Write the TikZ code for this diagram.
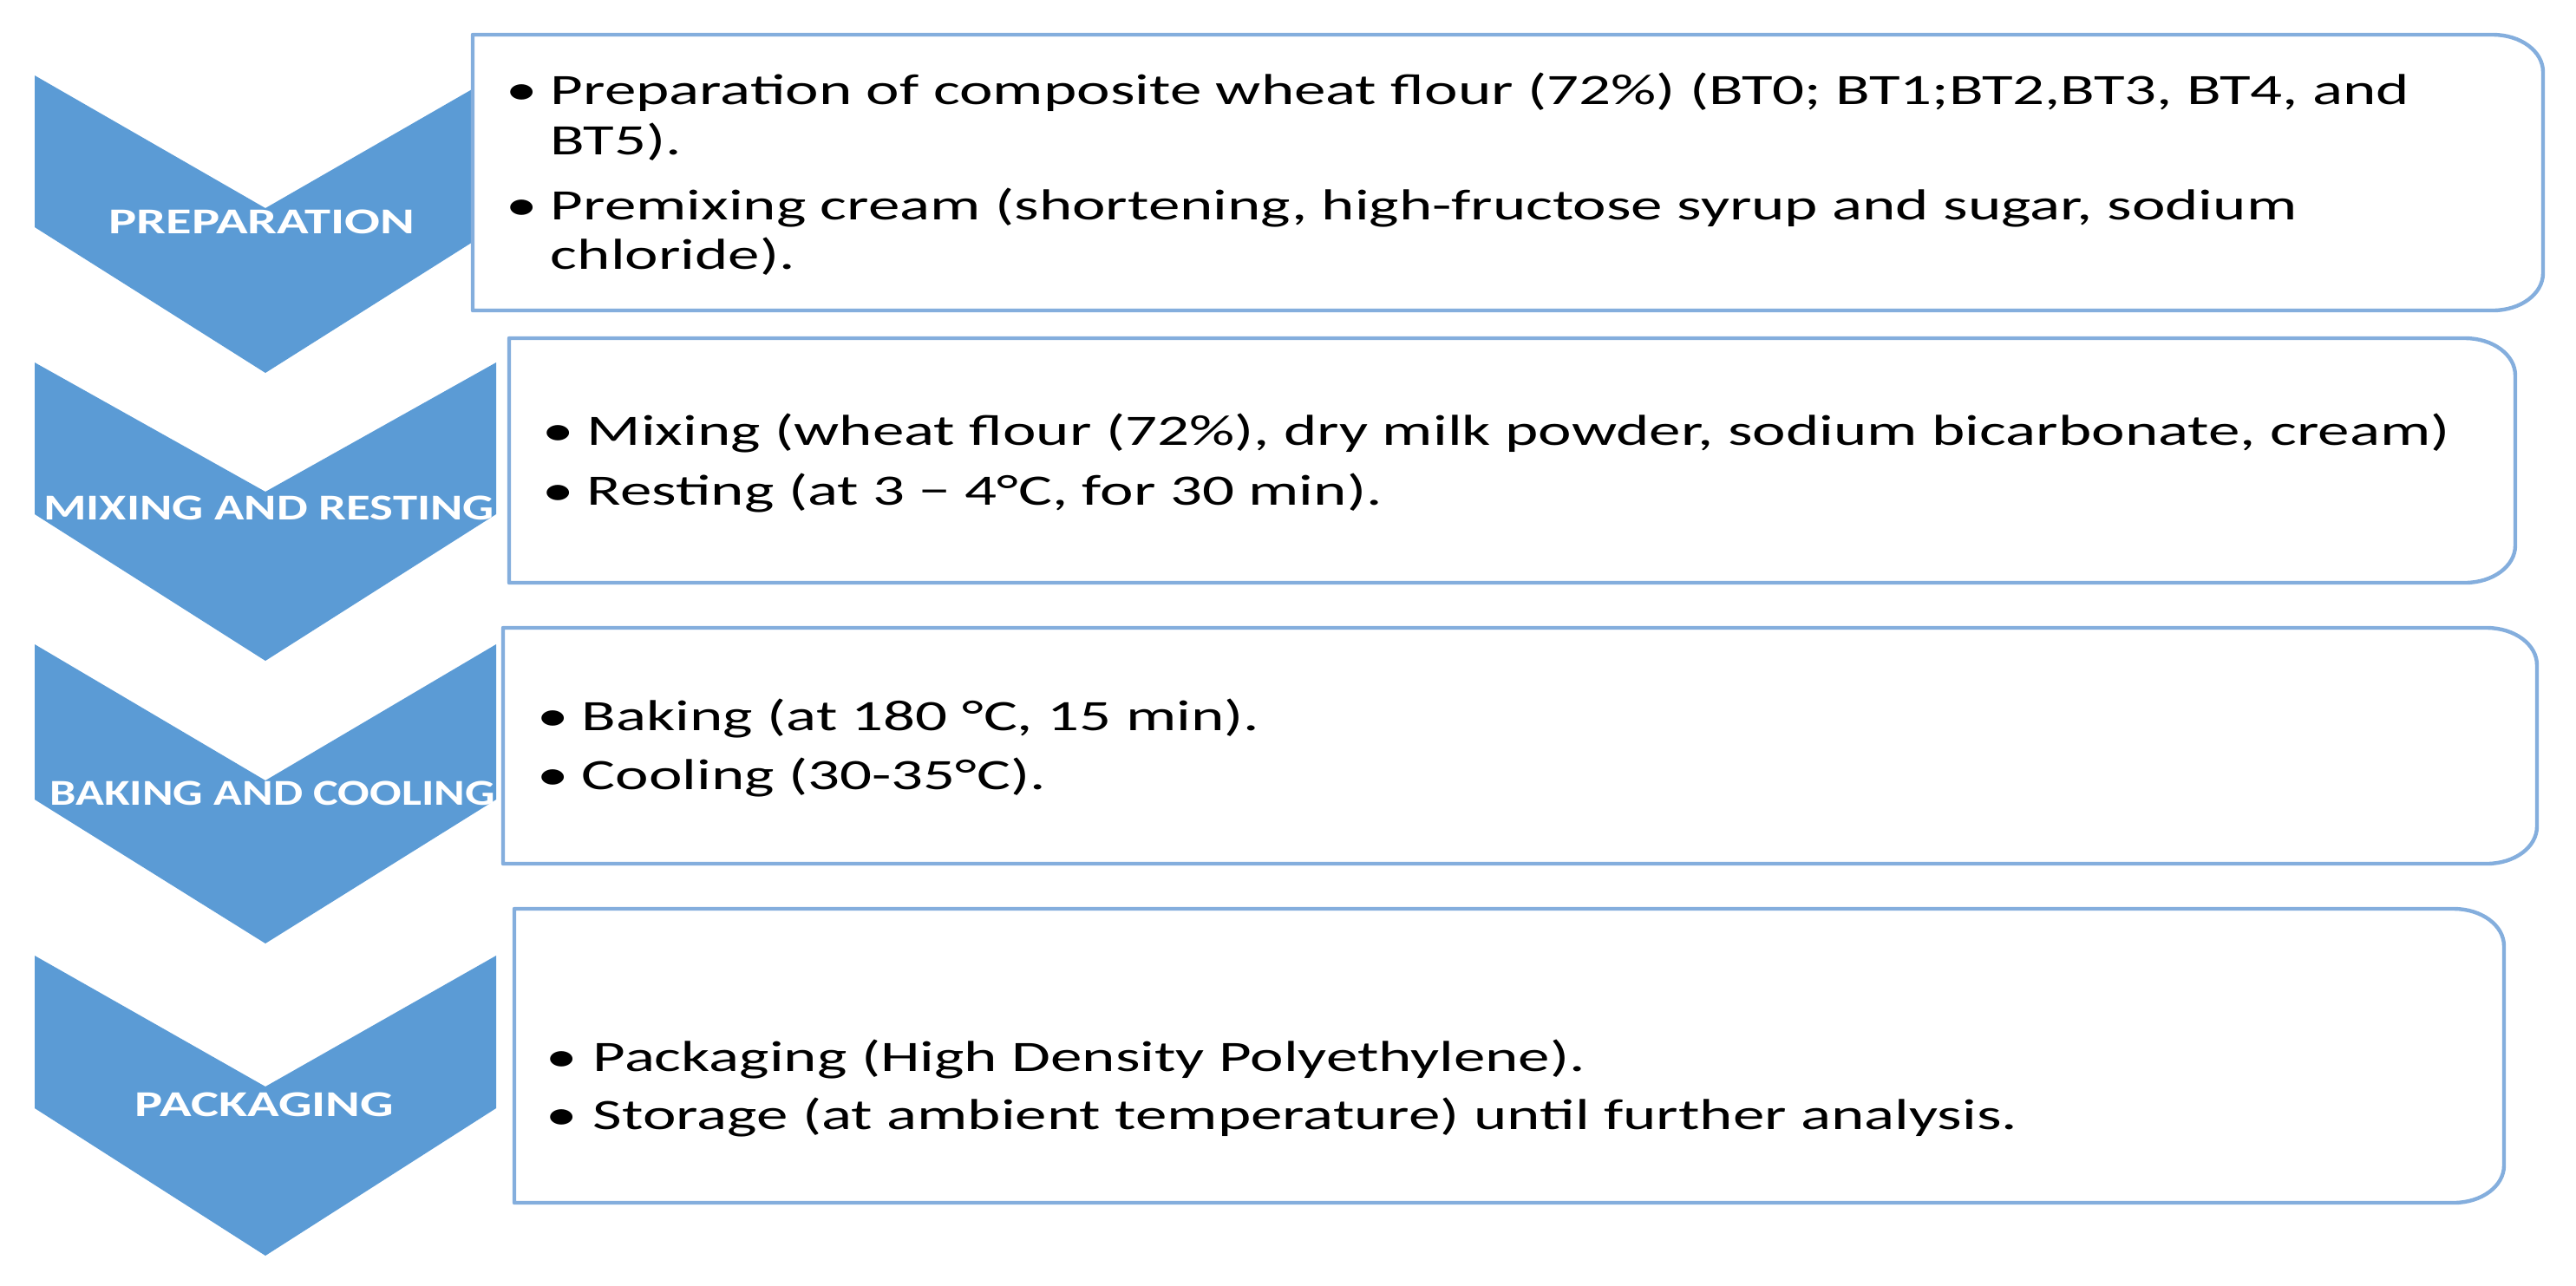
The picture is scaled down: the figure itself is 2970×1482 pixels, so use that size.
\documentclass[tikz,border=0pt]{standalone}
\usepackage{fontspec}
\setmainfont{Carlito}
\usepackage{graphicx}
\definecolor{chev}{HTML}{5B9BD5}
\definecolor{boxline}{HTML}{84AEDD}
\newcommand\sxt[2]{\scalebox{#1}[1]{#2}}
\begin{document}
\begin{tikzpicture}[x=0.25pt,y=-0.25pt,
  chevron/.style={fill=chev},
  listbox/.style={draw=boxline,line width=1.1pt,fill=white,line join=round},
  lab/.style={text=white,inner sep=0pt,font=\bfseries\fontsize{10.5}{12}\selectfont},
  body/.style={anchor=base west,inner sep=0pt,text=black,font=\fontsize{12.5}{15}\selectfont},
  bul/.style={anchor=base,inner sep=0pt,text=black,font=\fontsize{12.5}{15}\selectfont}]
\useasboundingbox (0,0) rectangle (2970,1482);

% chevrons
\fill[chevron] (40,87) -- (306,240) -- (572,87) -- (572,262) -- (306,430) -- (40,262) -- cycle;
\fill[chevron] (40,418) -- (306,567) -- (572,418) -- (572,593) -- (306,762) -- (40,593) -- cycle;
\fill[chevron] (40,743) -- (306,900) -- (572,743) -- (572,922) -- (306,1088) -- (40,922) -- cycle;
\fill[chevron] (40,1102) -- (306,1253) -- (572,1102) -- (572,1278) -- (306,1448) -- (40,1278) -- cycle;

% boxes
\path[listbox] (545,40) -- (2874,40) .. controls (2906,40) and (2932,59) .. (2932,83) -- (2932,315) .. controls (2932,339) and (2906,358) .. (2874,358) -- (545,358) -- cycle;
\path[listbox] (587,390) -- (2842,390) .. controls (2874,390) and (2900,409) .. (2900,433) -- (2900,629) .. controls (2900,653) and (2874,672) .. (2842,672) -- (587,672) -- cycle;
\path[listbox] (580,724) -- (2867,724) .. controls (2899,724) and (2925,743) .. (2925,767) -- (2925,953) .. controls (2925,977) and (2899,996) .. (2867,996) -- (580,996) -- cycle;
\path[listbox] (593,1048) -- (2829,1048) .. controls (2861,1048) and (2887,1067) .. (2887,1091) -- (2887,1344) .. controls (2887,1368) and (2861,1387) .. (2829,1387) -- (593,1387) -- cycle;

% chevron labels
\node[lab] (l1) at (302,256) {\sxt{1.44}{PREPARATION}};
\node[lab] (l2) at (310,586) {\sxt{1.35}{MIXING AND RESTING}};
\node[lab] (l3) at (314,915) {\sxt{1.29}{BAKING AND COOLING}};
\node[lab] (l4) at (305,1274) {\sxt{1.44}{PACKAGING}};

% box 1
\node[bul] (b1a) at (602,120) {\sxt{1.46}{•}};
\node[body] (t1a) at (634,120) {\sxt{1.46}{Preparation of composite wheat flour (72\%) (BT0; BT1;BT2,BT3, BT4, and}};
\node[body] (t1b) at (634,178) {\sxt{1.46}{BT5).}};
\node[bul] (b1c) at (602,253) {\sxt{1.46}{•}};
\node[body] (t1c) at (634,253) {\sxt{1.46}{Premixing cream (shortening, high-fructose syrup and sugar, sodium}};
\node[body] (t1d) at (634,310) {\sxt{1.46}{chloride).}};

% box 2
\node[bul] (b2a) at (644,513) {\sxt{1.46}{•}};
\node[body] (t2a) at (676,513) {\sxt{1.46}{Mixing (wheat flour (72\%), dry milk powder, sodium bicarbonate, cream)}};
\node[bul] (b2b) at (644,582) {\sxt{1.46}{•}};
\node[body] (t2b) at (676,582) {\sxt{1.46}{Resting (at 3 − 4°C, for 30 min).}};

% box 3
\node[bul] (b3a) at (638,842) {\sxt{1.46}{•}};
\node[body] (t3a) at (670,842) {\sxt{1.46}{Baking (at 180 °C, 15 min).}};
\node[bul] (b3b) at (638,910) {\sxt{1.46}{•}};
\node[body] (t3b) at (670,910) {\sxt{1.46}{Cooling (30-35°C).}};

% box 4
\node[bul] (b4a) at (648,1235) {\sxt{1.46}{•}};
\node[body] (t4a) at (683,1235) {\sxt{1.46}{Packaging (High Density Polyethylene).}};
\node[bul] (b4b) at (648,1302) {\sxt{1.46}{•}};
\node[body] (t4b) at (683,1302) {\sxt{1.46}{Storage (at ambient temperature) until further analysis.}};
\end{tikzpicture}
\end{document}
